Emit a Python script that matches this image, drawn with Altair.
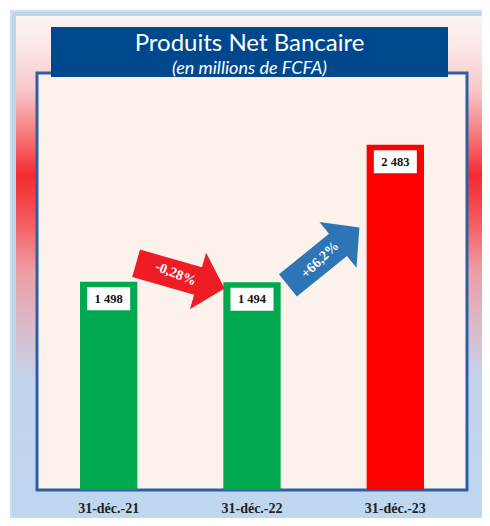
import altair as alt
import pandas as pd

# ---- data -------------------------------------------------------------
periods = ["31-déc.-21", "31-déc.-22", "31-déc.-23"]
pnb = [1498, 1494, 2483]
bar_colors = ["#00A94F", "#00A94F", "#FF0000"]

changes = ["-0,28%", "+66,2%"]
arrow_from = ["31-déc.-21", "31-déc.-22"]
arrow_level = [1540, 1680]
arrow_colors = ["#EE1C24", "#2E75B6"]

title_text = "Produits Net Bancaire"
subtitle_text = "(en millions de FCFA)"

bars_df = pd.DataFrame({
    "period": periods,
    "pnb": pnb,
    "label": [f"{v:,}".replace(",", " ") for v in pnb],
})
arrows_df = pd.DataFrame({"period": arrow_from, "level": arrow_level, "change": changes})
one = alt.Data(values=[{"k": 1}])

# ---- layout -----------------------------------------------------------
W, H = 430, 417
SERIF = "Liberation Serif"

xscale = alt.Scale(domain=periods, paddingInner=0.6, paddingOuter=0.3)
yscale = alt.Scale(domain=[0, 3000], nice=False, zero=True)
xaxis = alt.Axis(title=None, labelAngle=0, ticks=False, domain=False, grid=False,
                 labelFont=SERIF, labelFontWeight="bold", labelFontSize=14,
                 labelColor="#222222", labelPadding=11, zindex=2)


def X():
    return alt.X("period:N", sort=periods, scale=xscale, axis=xaxis)


# ---- decorations ------------------------------------------------------
frame = alt.Chart(one).mark_rect(fill="#BDD7EE", stroke="#CADFF4", strokeWidth=2).encode(
    x=alt.value(-26), x2=alt.value(445), y=alt.value(-62), y2=alt.value(445))

glow = alt.Chart(one).mark_rect(
    fill=alt.Gradient(
        gradient="linear", x1=0, x2=0, y1=0, y2=1,
        stops=[
            alt.GradientStop(offset=0.0, color="#FCF4F3"),
            alt.GradientStop(offset=0.068, color="#FAE6E5"),
            alt.GradientStop(offset=0.147, color="#F8C8C9"),
            alt.GradientStop(offset=0.247, color="#F67072"),
            alt.GradientStop(offset=0.317, color="#F42A2F"),
            alt.GradientStop(offset=0.396, color="#F45257"),
            alt.GradientStop(offset=0.506, color="#EE9DA2"),
            alt.GradientStop(offset=0.625, color="#D9BCCB"),
            alt.GradientStop(offset=0.725, color="#C3D3EC"),
            alt.GradientStop(offset=1.0, color="#BED8EF"),
        ],
    )
).encode(x=alt.value(-21), x2=alt.value(445), y=alt.value(-57), y2=alt.value(445))

panel = alt.Chart(one).mark_rect(fill="#FCF2EC", stroke="#2E5FA6", strokeWidth=3).encode(
    x=alt.value(0), x2=alt.value(W), y=alt.value(0), y2=alt.value(H))

title_box = alt.Chart(one).mark_rect(fill="#00488E").encode(
    x=alt.value(14), x2=alt.value(411), y=alt.value(-46), y2=alt.value(4))

title = alt.Chart(one).mark_text(font="Lato", fontSize=24, color="white",
                                 align="center", baseline="alphabetic").encode(
    x=alt.value(212.5), y=alt.value(-22), text=alt.value(title_text))

subtitle = alt.Chart(one).mark_text(font="Lato", fontSize=18, fontStyle="italic", color="white",
                                    align="center", baseline="alphabetic").encode(
    x=alt.value(212.5), y=alt.value(1), text=alt.value(subtitle_text))

# ---- data marks -------------------------------------------------------
bars = alt.Chart(bars_df).mark_bar().encode(
    x=X(),
    y=alt.Y("pnb:Q", scale=yscale, axis=None),
    color=alt.Color("period:N", scale=alt.Scale(domain=periods, range=bar_colors), legend=None),
)

BOX = "M-1.87,-1H1.87V1H-1.87Z"
boxes = alt.Chart(bars_df).mark_point(shape=BOX, size=529, filled=True, fill="white",
                                      opacity=1, strokeWidth=0, yOffset=17).encode(
    x=X(), y=alt.Y("pnb:Q", scale=yscale, axis=None))

values = alt.Chart(bars_df).mark_text(font=SERIF, fontWeight="bold", fontSize=12.5,
                                      color="#111111", baseline="middle", dy=17).encode(
    x=X(), y=alt.Y("pnb:Q", scale=yscale, axis=None), text="label:N")

ARROW = "M-1,-0.31L0.4,-0.31L0.4,-0.64L1,0L0.4,0.64L0.4,0.31L-1,0.31Z"
arrow_angles = [16, 321]
text_angles = [22, 316]
HALF_STEP = W / 3 / 2

arrow_layers = []
for i, ch in enumerate(changes):
    base = alt.Chart(arrows_df).transform_filter(alt.datum.change == ch)
    arrow_layers.append(
        base.mark_point(shape=ARROW, size=8464, filled=True, fill=arrow_colors[i], opacity=1,
                        strokeWidth=0, angle=arrow_angles[i], xOffset=HALF_STEP).encode(
            x=X(), y=alt.Y("level:Q", scale=yscale, axis=None))
    )
    arrow_layers.append(
        base.mark_text(font=SERIF, fontWeight="bold", fontSize=14, color="white",
                       baseline="middle", align="center", angle=text_angles[i],
                       xOffset=HALF_STEP, dx=-5).encode(
            x=X(), y=alt.Y("level:Q", scale=yscale, axis=None), text="change:N")
    )

chart = alt.layer(
    frame, glow, panel, bars, boxes, values, *arrow_layers, title_box, title, subtitle
).properties(
    width=W, height=H,
    autosize=alt.AutoSizeParams(type="none"),
    padding={"left": 29, "top": 65, "right": 15, "bottom": 28},
    background="white",
).configure_view(stroke=None)

chart.save("out.html", embed_options={"renderer": "svg", "actions": False})
